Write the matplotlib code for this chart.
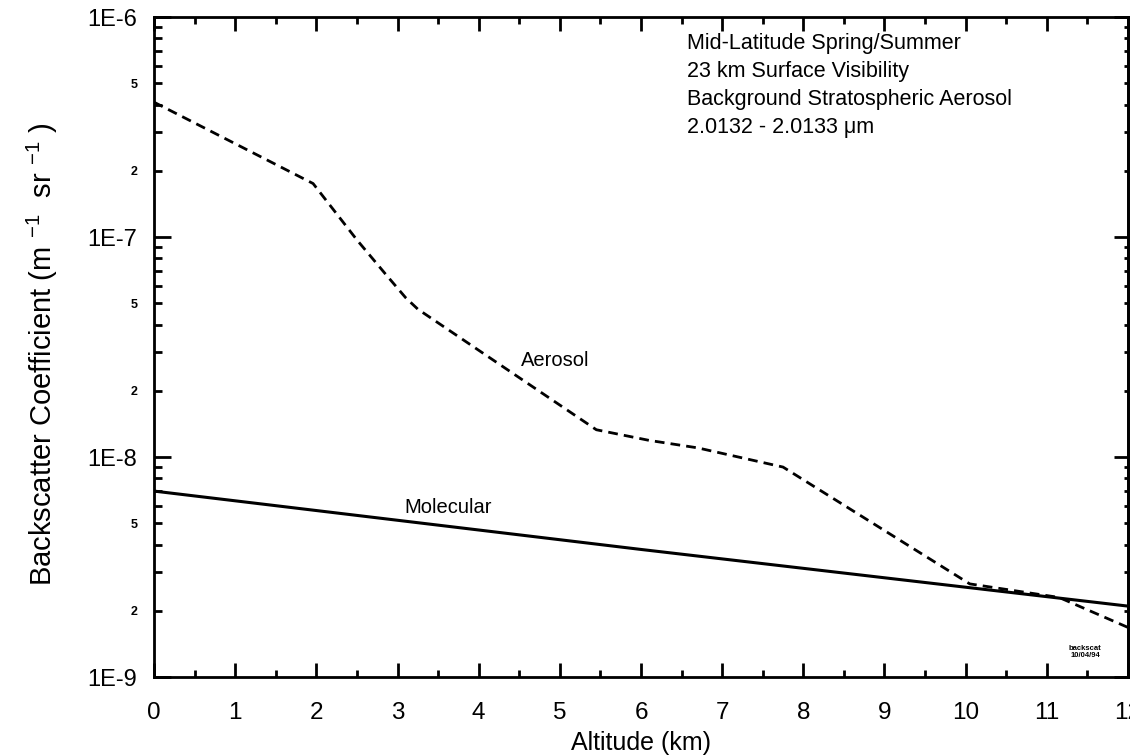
import numpy as np
import matplotlib
matplotlib.use("Agg")
import matplotlib.pyplot as plt
from matplotlib.ticker import LogLocator, FuncFormatter, MultipleLocator

plt.rcParams['font.family'] = ['Liberation Sans', 'DejaVu Sans']
plt.rcParams['mathtext.fontset'] = 'custom'
plt.rcParams['mathtext.rm'] = 'Liberation Sans'
plt.rcParams['mathtext.it'] = 'Liberation Sans'

# altitude (km) and backscatter coefficient (m^-1 sr^-1)
aerosol_alt = [0.0, 1.96, 2.5, 2.85, 3.1, 3.25, 5.45, 6.1, 6.7, 7.75, 10.05, 11.15, 12.0]
aerosol_beta = [4.1e-7, 1.75e-7, 9.7e-8, 6.8e-8, 5.3e-8, 4.7e-8, 1.33e-8,
                1.19e-8, 1.1e-8, 9.0e-9, 2.65e-9, 2.3e-9, 1.68e-9]

molecular_alt = [0.0, 6.0, 12.0]
molecular_beta = [7.0e-9, 3.8e-9, 2.1e-9]

info_lines = ["Mid-Latitude Spring/Summer",
              "23 km Surface Visibility",
              "Background Stratospheric Aerosol",
              "2.0132 - 2.0133 \u03bcm"]


def main():
    fig = plt.figure(figsize=(11.3, 7.55), dpi=100)
    ax = fig.add_axes([154 / 1130, 1 - 677 / 755, 974 / 1130, 660 / 755])

    ax.plot(aerosol_alt, aerosol_beta, color='black', lw=2.0,
            linestyle=(0, (3.5, 2.2)))
    ax.plot(molecular_alt, molecular_beta, color='black', lw=2.2)

    ax.set_yscale('log')
    ax.set_xlim(0, 12)
    ax.set_ylim(1e-9, 1e-6)

    ax.xaxis.set_major_locator(MultipleLocator(1))
    ax.xaxis.set_minor_locator(MultipleLocator(0.5))
    ax.yaxis.set_major_locator(LogLocator(base=10, numticks=10))
    ax.yaxis.set_minor_locator(LogLocator(base=10, subs=np.arange(2, 10), numticks=10))

    ax.yaxis.set_major_formatter(FuncFormatter(
        lambda v, p: f"1E{int(round(np.log10(v)))}"))

    def minor_fmt(v, p):
        m = v / 10 ** np.floor(np.log10(v) + 1e-9)
        m = int(round(m))
        return str(m) if m in (2, 5) else ""
    ax.yaxis.set_minor_formatter(FuncFormatter(minor_fmt))

    for side in ['left', 'bottom', 'top', 'right']:
        ax.spines[side].set_linewidth(2.0)

    ax.tick_params(axis='both', which='both', direction='in', top=True,
                   right=False, width=2.0)
    ax.tick_params(axis='y', which='major', length=12, labelsize=17, pad=12)
    ax.tick_params(axis='y', which='minor', length=6, labelsize=9, pad=12)
    ax.tick_params(axis='x', which='major', length=10, labelsize=17.5, pad=18)
    ax.tick_params(axis='x', which='minor', length=5)
    for lab in ax.yaxis.get_minorticklabels():
        lab.set_fontweight('bold')

    # right side carries only short tick marks
    rax = ax.twinx()
    rax.set_yscale('log')
    rax.set_ylim(1e-9, 1e-6)
    rax.yaxis.set_major_locator(LogLocator(base=10, numticks=10))
    rax.yaxis.set_minor_locator(LogLocator(base=10, subs=np.arange(2, 10), numticks=10))
    rax.tick_params(axis='y', which='both', direction='in', labelright=False, width=2.0)
    rax.tick_params(axis='y', which='major', length=10)
    rax.tick_params(axis='y', which='minor', length=3)
    rax.spines['right'].set_linewidth(2.0)

    ax.set_xlabel('Altitude (km)', fontsize=18, va='center')
    ax.xaxis.set_label_coords(0.5, -0.1)
    ax.set_ylabel(r'Backscatter Coefficient (m $^{-1}$  sr $^{-1}$ )',
                  fontsize=21, va='center')
    ax.yaxis.set_label_coords(-0.115, 0.489)

    ax.text(4.52, 2.76e-8, 'Aerosol', fontsize=14.5, va='center', ha='left')
    ax.text(3.09, 5.9e-9, 'Molecular', fontsize=14.5, va='center', ha='left')

    ax.text(0.547, 0.975, "\n".join(info_lines), transform=ax.transAxes,
            fontsize=15.5, va='top', ha='left', linespacing=1.43)

    ax.text(11.47, 1.3e-9, 'backscat\n10/04/94', fontsize=5.5, fontweight='bold',
            ha='center', va='center', linespacing=1.0)

    fig.savefig('out.png', dpi=100)


if __name__ == "__main__":
    main()
